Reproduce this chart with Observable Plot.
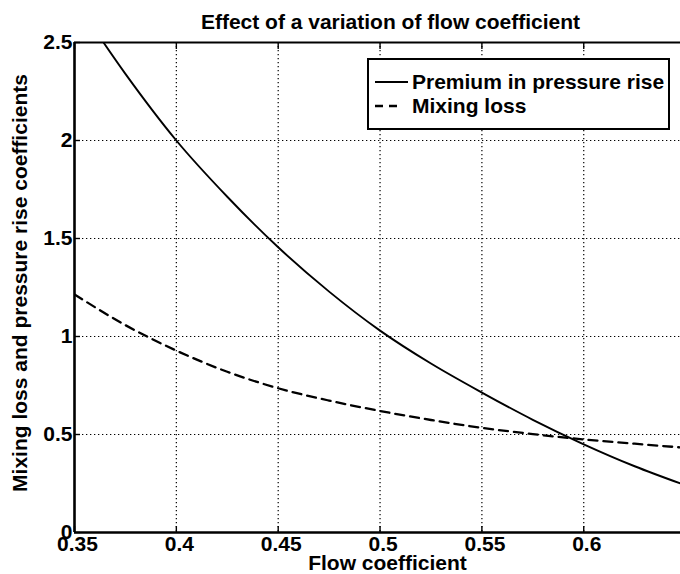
<!DOCTYPE html>
<html>
<head>
<meta charset="utf-8">
<script src="https://cdn.jsdelivr.net/npm/d3@7"></script>
<script src="https://cdn.jsdelivr.net/npm/@observablehq/plot@0.6"></script>
<style>
html,body{margin:0;padding:0;background:#fff;}
#chart{position:relative;width:680px;height:574px;overflow:hidden;}
#legend{position:absolute;left:367px;top:58px;}
</style>
</head>
<body>
<div id="chart"></div>
<script>
const titleText = "Effect of a variation of flow coefficient";
const xLabel = "Flow coefficient";
const yLabel = "Mixing loss and pressure rise coefficients";
const seriesNames = ["Premium in pressure rise", "Mixing loss"];
const xTicks = [0.35, 0.4, 0.45, 0.5, 0.55, 0.6];
const yTicks = [0, 0.5, 1, 1.5, 2, 2.5];
const xGrid = [0.4, 0.45, 0.5, 0.55, 0.6];
const yGrid = [0.5, 1, 1.5, 2];

const premiumFlow   = [0.35, 0.375, 0.4, 0.425, 0.45, 0.475, 0.5, 0.525, 0.55, 0.575, 0.6, 0.625, 0.6475];
const premiumValues = [2.72, 2.34, 2.0, 1.713, 1.455, 1.229, 1.03, 0.862, 0.714, 0.575, 0.45, 0.338, 0.25];
const mixingFlow    = [0.35, 0.375, 0.4, 0.425, 0.45, 0.475, 0.5, 0.525, 0.55, 0.575, 0.6, 0.625, 0.6475];
const mixingValues  = [1.215, 1.058, 0.928, 0.82, 0.736, 0.673, 0.62, 0.574, 0.534, 0.502, 0.475, 0.453, 0.434];

const premium = premiumFlow.map((x, i) => ({x, y: premiumValues[i]}));
const mixing = mixingFlow.map((x, i) => ({x, y: mixingValues[i]}));

const FONT = "'Liberation Sans', Arial, sans-serif";
const FS = 21;

const chart = Plot.plot({
  width: 680,
  height: 574,
  marginTop: 42,
  marginBottom: 42,
  marginLeft: 74,
  marginRight: 0,
  style: {fontFamily: FONT, fontSize: FS + "px", fontWeight: "bold", color: "#000", background: "#fff", overflow: "visible"},
  x: {domain: [0.35, 0.6475]},
  y: {domain: [0, 2.5]},
  marks: [
    Plot.ruleX(xGrid, {stroke: "#000", strokeWidth: 1.2, strokeDasharray: "1.3,2.7"}),
    Plot.ruleY(yGrid, {stroke: "#000", strokeWidth: 1.2, strokeDasharray: "1.3,2.7"}),
    Plot.line(premium, {x: "x", y: "y", stroke: "#000", strokeWidth: 1.9, curve: "monotone-x", clip: true}),
    Plot.line(mixing, {x: "x", y: "y", stroke: "#000", strokeWidth: 2.3, strokeDasharray: "9,6", curve: "monotone-x", clip: true}),
    Plot.ruleX([0.35], {stroke: "#000", strokeWidth: 2.6}),
    Plot.ruleY([0], {stroke: "#000", strokeWidth: 2.6}),
    Plot.ruleY([2.5], {stroke: "#000", strokeWidth: 2.2}),
    Plot.axisX(xTicks, {anchor: "bottom", tickSize: -6, tickFormat: () => "", label: null, strokeWidth: 1.4}),
    Plot.axisX(xTicks, {anchor: "top", tickSize: -6, tickFormat: () => "", label: null, strokeWidth: 1.4}),
    Plot.axisY(yTicks, {anchor: "left", tickSize: -6, tickFormat: () => "", label: null, strokeWidth: 1.4}),
    Plot.axisX(xTicks, {tickSize: 0, tickPadding: 4, dx: 3, tickFormat: d => String(d), fontSize: FS, label: null}),
    Plot.axisY(yTicks, {tickSize: 0, tickPadding: 2, tickFormat: d => String(d), fontSize: FS, label: null}),
    Plot.text([titleText], {frameAnchor: "top", dy: -20, dx: 13, fontSize: FS, lineAnchor: "middle", fill: "#000"}),
    Plot.text([xLabel], {frameAnchor: "bottom", dy: 31, dx: 10, fontSize: FS, lineAnchor: "middle", fill: "#000"}),
    Plot.text([yLabel], {frameAnchor: "left", textAnchor: "middle", rotate: -90, dx: -54, dy: -4.5, fontSize: FS, lineAnchor: "middle", fill: "#000"})
  ]
});
document.getElementById("chart").appendChild(chart);

// legend overlay
const lg = d3.select("#chart").append("svg")
  .attr("id", "legend")
  .attr("width", 304).attr("height", 73)
  .style("font-family", FONT).style("font-size", FS + "px").style("font-weight", "bold");
lg.append("rect").attr("x", 1).attr("y", 1).attr("width", 301).attr("height", 70)
  .attr("fill", "#fff").attr("stroke", "#000").attr("stroke-width", 2);
const dashes = [null, "8,6"];
const widths = [1.9, 2.3];
seriesNames.forEach((name, i) => {
  const cy = 24 + i * 24;
  lg.append("line").attr("x1", 8).attr("x2", i === 0 ? 41 : 36).attr("y1", cy).attr("y2", cy)
    .attr("stroke", "#000").attr("stroke-width", widths[i]).attr("stroke-dasharray", dashes[i]);
  lg.append("text").attr("x", 45).attr("y", cy + 7).attr("fill", "#000").text(name);
});
</script>
</body>
</html>
